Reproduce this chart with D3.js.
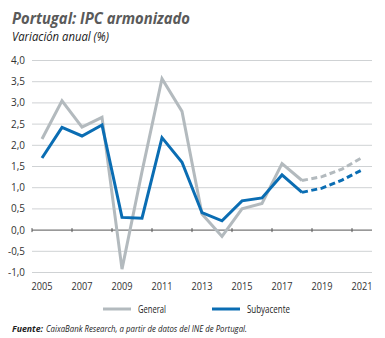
<!DOCTYPE html>
<html>
<head>
<meta charset="utf-8">
<script src="https://cdn.jsdelivr.net/npm/d3@7"></script>
<style>
  html, body { margin: 0; padding: 0; background: #fff; }
  svg { display: block; font-family: "Open Sans", "Noto Sans", sans-serif; }
</style>
</head>
<body>
<svg id="chart" width="385" height="338"></svg>
<script>
// Portugal: IPC armonizado, variación anual (%)
const years = [2005, 2006, 2007, 2008, 2009, 2010, 2011, 2012, 2013,
               2014, 2015, 2016, 2017, 2018, 2019, 2020, 2021];
const general =    [2.15, 3.05, 2.43, 2.66, -0.92, 1.38, 3.57, 2.80, 0.38,
                    -0.15, 0.50, 0.63, 1.57, 1.17, 1.26, 1.44, 1.71];
const subyacente = [1.70, 2.42, 2.22, 2.48, 0.30, 0.28, 2.18, 1.60, 0.41,
                    0.22, 0.69, 0.76, 1.30, 0.89, 0.99, 1.18, 1.42];
const lastReal = 2018; // desde aquí, previsión (línea discontinua)
const yTicks = [-1, -0.5, 0, 0.5, 1, 1.5, 2, 2.5, 3, 3.5, 4];
const xLabels = [2005, 2007, 2009, 2011, 2013, 2015, 2017, 2019, 2021];

const GRAY = "#b3babe", BLUE = "#0a6db3";
const fmt = (v) => v.toFixed(1).replace(".", ",");

const svg = d3.select("#chart");
const L = 32, R = 372, T = 60.5, B = 272.5;

const x = d3.scaleBand().domain(years).range([L, R]);
const cx = (yr) => x(yr) + x.bandwidth() / 2;
const y = d3.scaleLinear().domain([-1, 4]).range([B, T]);

// títulos
svg.append("text").attr("x", 12).attr("y", 24)
  .attr("font-size", 16).attr("font-weight", "bold").attr("font-style", "italic")
  .attr("textLength", 178).attr("lengthAdjust", "spacingAndGlyphs")
  .attr("fill", "#5a5a5a").text("Portugal: IPC armonizado");
svg.append("text").attr("x", 12).attr("y", 41)
  .attr("font-size", 12.5).attr("font-style", "italic")
  .attr("textLength", 97).attr("lengthAdjust", "spacingAndGlyphs")
  .attr("fill", "#1a1a1a").text("Variación anual (%)");

// rejilla
svg.append("g").selectAll("line").data(yTicks.filter((d) => d !== 0)).join("line")
  .attr("x1", L).attr("x2", R)
  .attr("y1", (d) => y(d)).attr("y2", (d) => y(d))
  .attr("stroke", "#cfd2d4").attr("stroke-width", 1);

svg.append("g").selectAll("text").data(yTicks).join("text")
  .attr("x", 25).attr("y", (d) => y(d) + 3.5)
  .attr("text-anchor", "end").attr("font-size", 10.5).attr("fill", "#333")
  .attr("textLength", (d) => (d < 0 ? 17 : 14)).attr("lengthAdjust", "spacingAndGlyphs")
  .text(fmt);

// eje cero con marcas en los límites entre años
const zero = svg.append("g");
zero.append("line").attr("x1", L).attr("x2", R)
  .attr("y1", y(0)).attr("y2", y(0)).attr("stroke", "#555").attr("stroke-width", 1);
zero.selectAll("line.tk").data(xLabels).join("line").attr("class", "tk")
  .attr("x1", (d) => x(d)).attr("x2", (d) => x(d))
  .attr("y1", y(0) - 2).attr("y2", y(0) + 2)
  .attr("stroke", "#555").attr("stroke-width", 1);

svg.append("g").selectAll("text").data(xLabels).join("text")
  .attr("x", (d) => cx(d)).attr("y", 290)
  .attr("text-anchor", "middle").attr("font-size", 10.5).attr("fill", "#333")
  .attr("textLength", 21).attr("lengthAdjust", "spacingAndGlyphs")
  .text((d) => d);

// series
const line = d3.line().x((d) => cx(d.yr)).y((d) => y(d.v));
function drawSeries(values, color) {
  const pts = years.map((yr, i) => ({ yr, v: values[i] }));
  svg.append("path").datum(pts.filter((d) => d.yr <= lastReal))
    .attr("d", line).attr("fill", "none").attr("stroke", color)
    .attr("stroke-width", 3).attr("stroke-linejoin", "miter");
  svg.append("path").datum(pts.filter((d) => d.yr >= lastReal))
    .attr("d", line).attr("fill", "none").attr("stroke", color)
    .attr("stroke-width", 3).attr("stroke-dasharray", "6 3.5");
}
drawSeries(general, GRAY);
drawSeries(subyacente, BLUE);

// leyenda
const legend = [
  { name: "General", color: GRAY, x: 103, w: 28 },
  { name: "Subyacente", color: BLUE, x: 212, w: 43 }
];
const lg = svg.append("g").selectAll("g").data(legend).join("g")
  .attr("transform", (d) => `translate(${d.x},309)`);
lg.append("line").attr("x1", 0).attr("x2", 28).attr("stroke", (d) => d.color).attr("stroke-width", 3);
lg.append("text").attr("x", 35).attr("y", 3.5).attr("font-size", 10.5).attr("fill", "#222")
  .attr("textLength", (d) => d.w).attr("lengthAdjust", "spacingAndGlyphs")
  .text((d) => d.name);

// fuente
svg.append("text").attr("x", 12).attr("y", 332)
  .attr("font-size", 9.5).attr("font-style", "italic").attr("font-weight", "bold").attr("fill", "#222")
  .attr("textLength", 31).attr("lengthAdjust", "spacingAndGlyphs")
  .text("Fuente:");
svg.append("text").attr("x", 46).attr("y", 332)
  .attr("font-size", 9.5).attr("font-style", "italic").attr("fill", "#222")
  .attr("textLength", 201).attr("lengthAdjust", "spacingAndGlyphs")
  .text("CaixaBank Research, a partir de datos del INE de Portugal.");
</script>
</body>
</html>
